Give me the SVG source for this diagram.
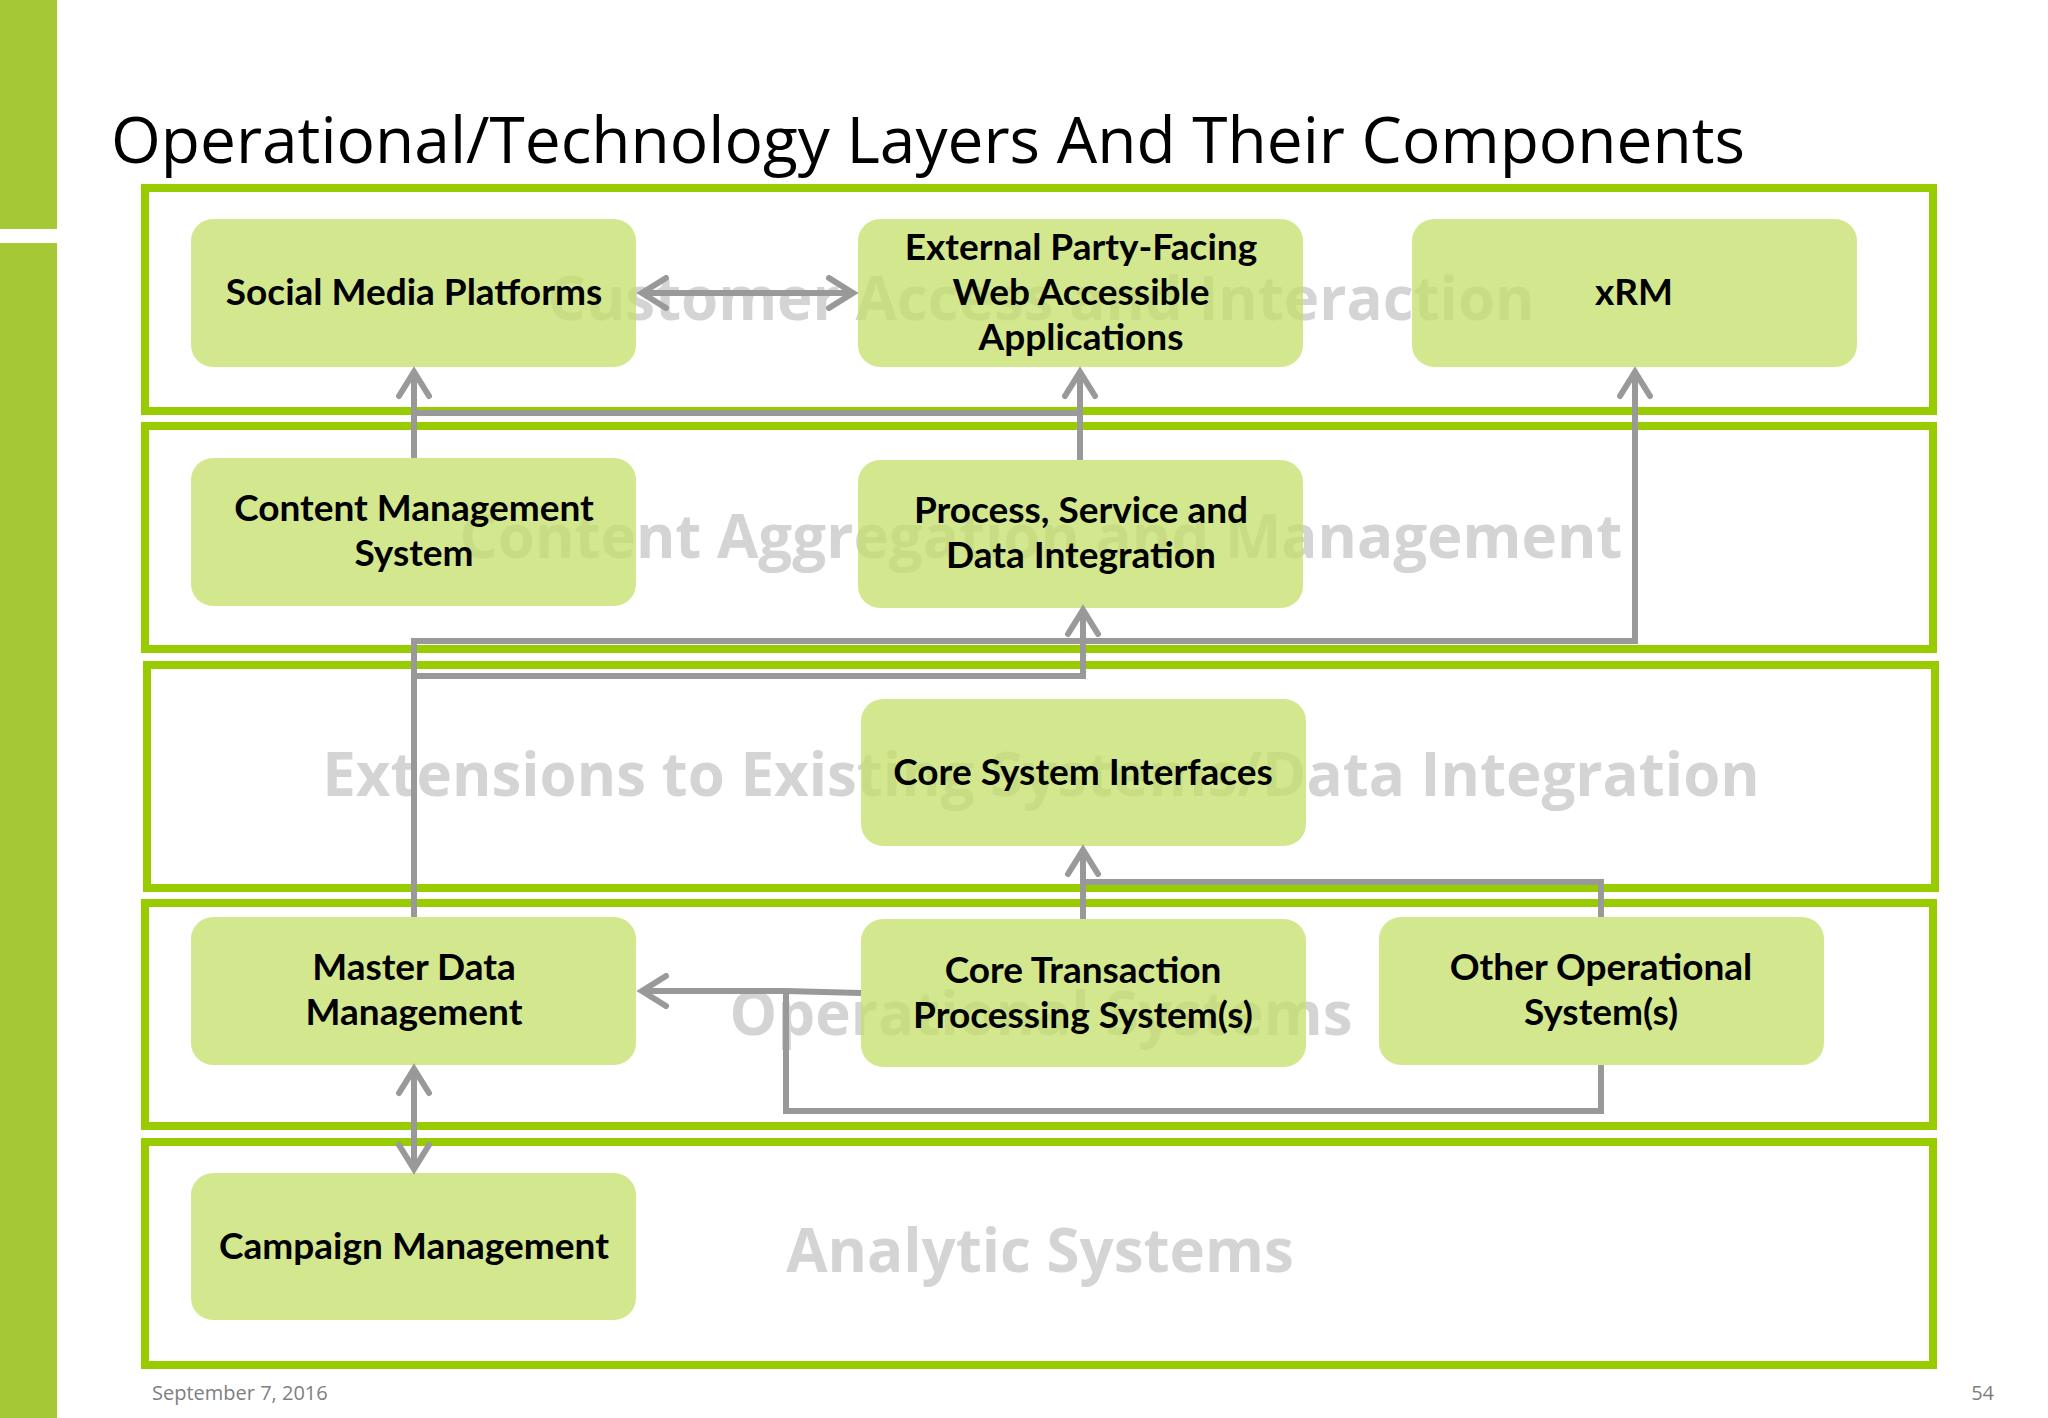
<svg xmlns="http://www.w3.org/2000/svg" width="2048" height="1418" viewBox="0 0 2048 1418">
<style>
.layer{fill:none;stroke:#99cc00;stroke-width:8}
.node rect{fill:#c4df6a;fill-opacity:0.75;stroke:none}
.node text{font-family:Lato,"Open Sans",sans-serif;font-weight:bold;font-size:37px;fill:#000;text-anchor:middle}
.wm{font-family:"Open Sans",sans-serif;font-weight:bold;font-size:60px;fill:#d4d4d4;text-anchor:middle}
.c{fill:none;stroke:#999;stroke-width:6}
</style>
<defs>
<marker id="ah" viewBox="0 0 12 12" refX="10" refY="6" markerWidth="6" markerHeight="6" orient="auto-start-reverse" markerUnits="strokeWidth">
<path d="M2,1 L10,6 L2,11" fill="none" stroke="#999" stroke-width="2" stroke-linecap="round"/>
</marker>
</defs>
<rect width="2048" height="1418" fill="#fff"/>
<rect x="0" y="0" width="57" height="229" fill="#a5c934"/>
<rect x="0" y="243" width="57" height="1175" fill="#a5c934"/>
<text x="111" y="163" font-family="'Open Sans',sans-serif" font-size="64" fill="#000">Operational/Technology Layers And Their Components</text>
<g id="layers">
<rect class="layer" x="145" y="188" width="1788" height="223"/>
<rect class="layer" x="145" y="426" width="1788" height="223"/>
<rect class="layer" x="147" y="665" width="1788" height="223"/>
<rect class="layer" x="145" y="903" width="1788" height="223"/>
<rect class="layer" x="145" y="1142" width="1788" height="223"/>
<text class="wm" x="1041" y="320">Customer Access and Interaction</text>
<text class="wm" x="1041" y="558">Content Aggregation and Management</text>
<text class="wm" x="1041" y="796">Extensions to Existing Systems/Data Integration</text>
<text class="wm" x="1041" y="1035">Operational Systems</text>
<text class="wm" x="1040" y="1272">Analytic Systems</text>
</g>
<g id="n-social" class="node"><rect x="191" y="219" width="445" height="148" rx="22"/><text x="414" y="305">Social Media Platforms</text></g>
<g id="n-external" class="node"><rect x="858" y="219" width="445" height="148" rx="22"/><text x="1081" y="260">External Party-Facing</text><text x="1081" y="305">Web Accessible</text><text x="1081" y="350">Applications</text></g>
<g id="n-xrm" class="node"><rect x="1412" y="219" width="445" height="148" rx="22"/><text x="1634" y="305">xRM</text></g>
<g id="n-cms" class="node"><rect x="191" y="458" width="445" height="148" rx="22"/><text x="414" y="521">Content Management</text><text x="414" y="566">System</text></g>
<g id="n-psdi" class="node"><rect x="858" y="460" width="445" height="148" rx="22"/><text x="1081" y="523">Process, Service and</text><text x="1081" y="568">Data Integration</text></g>
<g id="n-csi" class="node"><rect x="861" y="699" width="445" height="147" rx="22"/><text x="1083" y="785">Core System Interfaces</text></g>
<g id="n-mdm" class="node"><rect x="191" y="917" width="445" height="148" rx="22"/><text x="414" y="980">Master Data</text><text x="414" y="1025">Management</text></g>
<g id="n-ctp" class="node"><rect x="861" y="919" width="445" height="148" rx="22"/><text x="1083" y="983">Core Transaction</text><text x="1083" y="1028">Processing System(s)</text></g>
<g id="n-other" class="node"><rect x="1379" y="917" width="445" height="148" rx="22"/><text x="1601" y="980">Other Operational</text><text x="1601" y="1025">System(s)</text></g>
<g id="n-campaign" class="node"><rect x="191" y="1173" width="445" height="147" rx="22"/><text x="414" y="1259">Campaign Management</text></g>
<g id="connectors">
<path class="c" d="M642,293 H853" marker-start="url(#ah)" marker-end="url(#ah)"/>
<path class="c" d="M414,458 V372" marker-end="url(#ah)"/>
<path class="c" d="M414,413 H1080"/>
<path class="c" d="M1080,460 V372" marker-end="url(#ah)"/>
<path class="c" d="M414,917 V641 H1635 V372" marker-end="url(#ah)"/>
<path class="c" d="M414,676 H1083 V610" marker-end="url(#ah)"/>
<path class="c" d="M1083,919 V850" marker-end="url(#ah)"/>
<path class="c" d="M1083,882 H1601 V917"/>
<path class="c" d="M1601,1065 V1111 H786 V990"/>
<path class="c" d="M861,993 L786,991 H642" marker-end="url(#ah)"/>
<path class="c" d="M414,1069 V1169" marker-start="url(#ah)" marker-end="url(#ah)"/>
</g>
<text x="152" y="1400" font-family="'Open Sans',sans-serif" font-size="20" fill="#7f7f7f">September 7, 2016</text>
<text x="1994" y="1400" font-family="'Open Sans',sans-serif" font-size="20" fill="#7f7f7f" text-anchor="end">54</text>
</svg>
